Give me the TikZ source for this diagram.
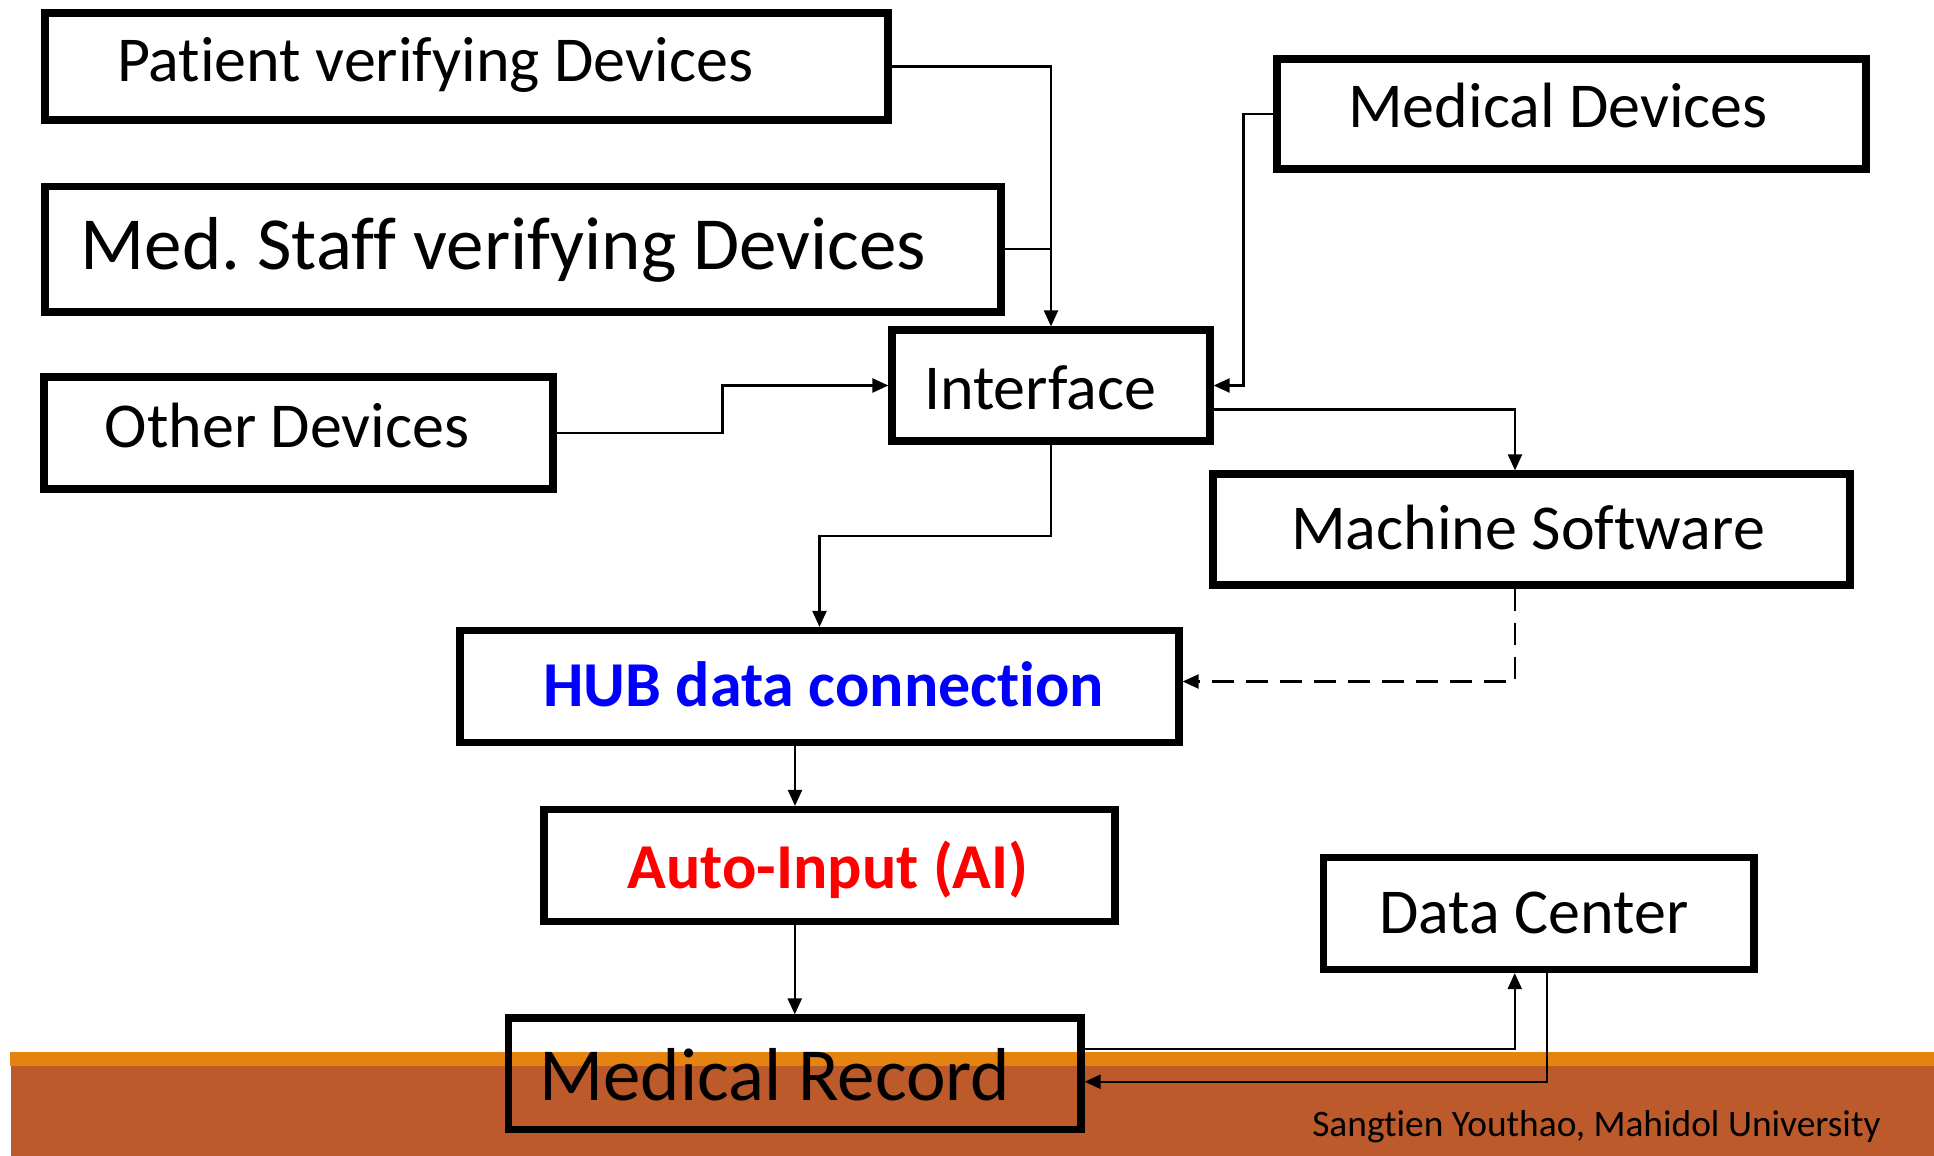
\documentclass[tikz,border=0pt]{standalone}
\usepackage{fontspec}
\setmainfont[Ligatures=NoCommon]{Carlito}
\frenchspacing
\usetikzlibrary{arrows.meta,calc}
\definecolor{barorange}{HTML}{E4830F}
\definecolor{barbrown}{HTML}{BC5A2C}
\definecolor{hubblue}{HTML}{0000FF}
\definecolor{aired}{HTML}{FF0000}
\begin{document}
\begin{tikzpicture}[x=0.5pt,y=-0.5pt,
  box/.style={draw=black, line width=3.6pt, inner sep=0pt},
  lab/.style={inner sep=0pt, text depth=0pt, font=\fontsize{32}{36}\selectfont, text height=20.2pt},
  biglab/.style={inner sep=0pt, text depth=0pt, font=\fontsize{37.5}{42}\selectfont, text height=23.7pt},
  conn/.style={draw=black, line width=1.1pt},
  arr/.style={conn, -{Triangle[length=8pt,width=7pt]}}
]
\useasboundingbox (0,0) rectangle (1934,1156);
\fill[white] (0,0) rectangle (1934,1156);
% bottom bar
\fill[barorange] (10,1052) rectangle (1934,1066);
\fill[barbrown] (11,1066) rectangle (1934,1156);

% boxes
\node[box, minimum width=421.5pt, minimum height=53.5pt,
  label={[lab, xshift=-15.75pt, yshift=2.5pt]center:Patient verifying Devices}] (pat) at (466.5,66.5) {};
\node[box, minimum width=478pt, minimum height=62.75pt,
  label={[biglab, xshift=-9.75pt, yshift=1.5pt]center:Med. Staff verifying Devices}] (staff) at (523,249.25) {};
\node[box, minimum width=254.5pt, minimum height=56pt,
  label={[lab, xshift=-5.75pt, yshift=3pt]center:Other Devices}] (other) at (298.5,433) {};
\node[box, minimum width=159pt, minimum height=55.5pt,
  label={[lab, xshift=-5.5pt, yshift=-1.75pt]center:Interface}] (intf) at (1051,385.5) {};
\node[box, minimum width=294.5pt, minimum height=55pt,
  label={[lab, xshift=-6.75pt, yshift=3.5pt]center:Medical Devices}] (meddev) at (1571.5,114) {};
\node[box, minimum width=318.5pt, minimum height=55.5pt,
  label={[lab, xshift=-1.75pt]center:Machine Software}] (mach) at (1531.5,529.5) {};
\node[box, minimum width=359.5pt, minimum height=56pt,
  label={[lab, font=\fontsize{32}{36}\selectfont\bfseries, text=hubblue, xshift=2pt]center:HUB data connection}] (hub) at (819.5,686.5) {};
\node[box, minimum width=285.5pt, minimum height=56pt,
  label={[lab, font=\fontsize{32}{36}\selectfont\bfseries, text=aired, xshift=-0.75pt, yshift=-1.25pt]center:Auto-Input (AI)}] (auto) at (829.5,865.5) {};
\node[box, minimum width=286.25pt, minimum height=55.75pt,
  label={[biglab, xshift=-10pt, yshift=-1.5pt]center:Medical Record}] (mrec) at (794.75,1073.75) {};
\node[box, minimum width=215.25pt, minimum height=56pt,
  label={[lab, xshift=-2.5pt]center:Data Center}] (dc) at (1538.75,913.5) {};

% connectors
\draw[arr] (pat.east) -| (intf.north);
\draw[conn] (staff.east) -- (staff.east -| intf.north);
\draw[arr] (other.east) -| ($(other.east)!0.5!(intf.west)$) |- (intf.west);
\draw[arr] (meddev.west) -| ($(meddev.west)!0.5!(intf.east)$) |- (intf.east);
\draw[arr] ($(intf.east)+(0,24)$) -| ($(mach.north)+(-16.5,0)$);
\draw[arr] (intf.south) |- ($(intf.south)!0.5!(hub.north)$) -| (hub.north);
\draw[arr, dash pattern=on 11pt off 6pt] ($(mach.south)+(-16.5,0)$) |- ($(hub.east)+(0,-5)$);
\coordinate (hubout) at ($(hub.south)+(-24.5,0)$);
\draw[arr] (hubout) -- (hubout |- auto.north);
\draw[arr] (mrec.north |- auto.south) -- (mrec.north);
\draw[arr] ($(mrec.east)+(0,-25)$) -| ($(dc.south)+(-24,0)$);
\draw[arr] ($(dc.south)+(8,0)$) |- ($(mrec.east)+(0,8)$);

% footer
\node[anchor=base east, inner sep=0pt, font=\fontsize{18.7}{21}\selectfont] (footer) at (1881,1136.7) {Sangtien Youthao, Mahidol University};
\end{tikzpicture}
\end{document}
